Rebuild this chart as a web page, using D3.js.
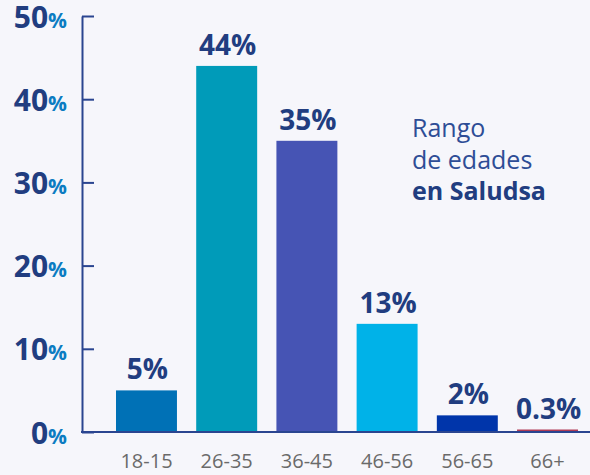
<!DOCTYPE html>
<html>
<head>
<meta charset="utf-8">
<script src="https://cdn.jsdelivr.net/npm/d3@7"></script>
<style>
  body { margin: 0; background: #f6f6fb; }
  svg { display: block; font-family: "Open Sans", sans-serif; }
</style>
</head>
<body>
<svg></svg>
<script>
const w = 590
const h = 475

// data
const categories = ['18-15', '26-35', '36-45', '46-56', '56-65', '66+']
const values = [5, 44, 35, 13, 2, 0.3]
const barColors = ['#0071b6', '#009bb9', '#4654b4', '#00b2e8', '#0035aa', '#b03b55']
const yTicks = [0, 10, 20, 30, 40, 50]
const titleLines = ['Rango', 'de edades', 'en Saludsa']

const navy = '#213d80'
const axisCol = '#2a4590'

const svg = d3.select('svg')
  .attr('width', w)
  .attr('height', h)

const margin = {top: 16, right: 0, bottom: 43, left: 82}
const innerHeight = h - margin.top - margin.bottom

const data = categories.map((c, i) => ({cat: c, val: values[i]}))

const xScale = d3.scaleBand()
  .domain(categories)
  .range([116 - margin.left, 578 - margin.left])
  .paddingInner(0.24)
  .paddingOuter(0)

const yScale = d3.scaleLinear()
  .domain([0, 50])
  .range([innerHeight, 0])

const color = d3.scaleOrdinal().domain(categories).range(barColors)

const g = svg.append('g')
  .attr('transform', `translate(${margin.left}, ${margin.top})`)

// bars
g.selectAll('rect.bar').data(data)
  .enter().append('rect')
  .attr('class', 'bar')
  .attr('x', d => xScale(d.cat))
  .attr('width', xScale.bandwidth())
  .attr('y', d => yScale(d.val))
  .attr('height', d => innerHeight - yScale(d.val))
  .attr('fill', d => color(d.cat))

// value labels
g.selectAll('text.val').data(data)
  .enter().append('text')
  .attr('class', 'val')
  .attr('x', d => xScale(d.cat) + xScale.bandwidth() / 2 + 1)
  .attr('y', d => yScale(d.val) - 11)
  .attr('text-anchor', 'middle')
  .style('font-size', '28px')
  .style('font-weight', 700)
  .attr('fill', navy)
  .text(d => d.val + '%')

// y axis
const yAxis = d3.axisLeft(yScale)
  .tickValues(yTicks)
  .tickSize(-12)
  .tickSizeOuter(0)
  .tickPadding(15)
  .tickFormat('')

const yAxisG = g.append('g').call(yAxis)
yAxisG.select('.domain').attr('stroke', axisCol).attr('stroke-width', 2)
yAxisG.selectAll('.tick line').attr('stroke', axisCol).attr('stroke-width', 2)
yAxisG.selectAll('.tick text').each(function(d) {
  const t = d3.select(this)
    .attr('dy', null)
    .attr('y', 11)
    .style('font-family', '"Open Sans", sans-serif')
  t.append('tspan')
    .style('font-size', '30px')
    .style('font-weight', 700)
    .attr('fill', navy)
    .text(d)
  t.append('tspan')
    .style('font-size', '21px')
    .style('font-weight', 700)
    .attr('fill', '#0b7cc2')
    .text('%')
})

// x axis
const xAxis = d3.axisBottom(xScale)
  .tickSize(0)
  .tickPadding(22)

const xAxisG = g.append('g').call(xAxis)
  .attr('transform', `translate(0, ${innerHeight})`)
xAxisG.select('.domain').remove()
xAxisG.selectAll('.tick text')
  .style('font-family', '"Open Sans", sans-serif')
  .style('font-size', '20px')
  .attr('fill', '#6a6a6a')

g.append('line')
  .attr('x1', -1)
  .attr('x2', w - margin.left)
  .attr('y1', innerHeight)
  .attr('y2', innerHeight)
  .attr('stroke', axisCol)
  .attr('stroke-width', 2)

// title
const title = svg.append('text')
  .attr('x', 412)
  .attr('y', 137)
  .style('font-size', '25px')
title.selectAll('tspan').data(titleLines)
  .enter().append('tspan')
  .attr('x', 412)
  .attr('dy', (d, i) => i === 0 ? 0 : 31.5)
  .style('font-weight', (d, i) => i === 2 ? 700 : 400)
  .attr('fill', (d, i) => i === 2 ? navy : '#2e4d96')
  .text(d => d)
</script>
</body>
</html>
